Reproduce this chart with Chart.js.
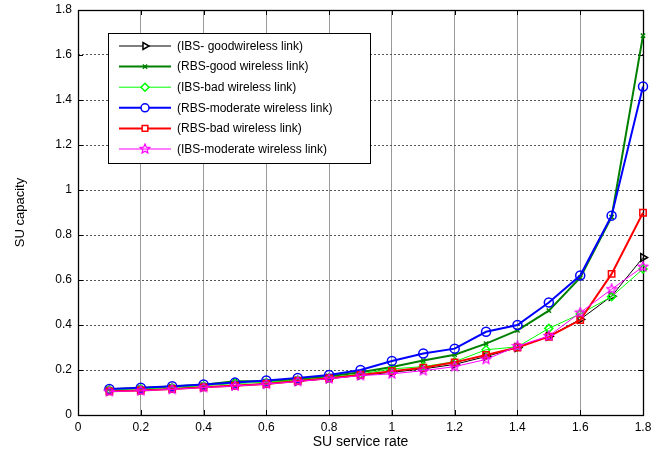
<!DOCTYPE html>
<html>
<head>
<meta charset="utf-8">
<script src="https://cdn.jsdelivr.net/npm/chart.js@4/dist/chart.umd.min.js"></script>
<style>
  html, body { margin: 0; padding: 0; background: #fff; }
  #wrap { width: 664px; height: 454px; }
</style>
</head>
<body>
<div id="wrap"><canvas id="myChart" width="664" height="454"></canvas></div>
<script>
// service rate values (x)
const serviceRate = [0.1, 0.2, 0.3, 0.4, 0.5, 0.6, 0.7, 0.8, 0.9, 1.0, 1.1, 1.2, 1.3, 1.4, 1.5, 1.6, 1.7, 1.8];

// SU capacity per scenario
const ibsGood      = [0.106, 0.110, 0.117, 0.124, 0.131, 0.139, 0.150, 0.162, 0.176, 0.190, 0.205, 0.225, 0.260, 0.300, 0.350, 0.425, 0.528, 0.700];
const rbsGood      = [0.115, 0.120, 0.127, 0.134, 0.150, 0.150, 0.160, 0.172, 0.190, 0.213, 0.242, 0.268, 0.317, 0.376, 0.464, 0.610, 0.880, 1.686];
const ibsBad       = [0.112, 0.116, 0.122, 0.130, 0.140, 0.145, 0.155, 0.167, 0.182, 0.205, 0.215, 0.237, 0.290, 0.303, 0.385, 0.449, 0.526, 0.649];
const rbsModerate  = [0.116, 0.121, 0.128, 0.136, 0.144, 0.153, 0.165, 0.178, 0.200, 0.240, 0.273, 0.295, 0.370, 0.400, 0.500, 0.620, 0.886, 1.460];
const rbsBad       = [0.105, 0.109, 0.115, 0.123, 0.130, 0.138, 0.151, 0.163, 0.178, 0.195, 0.210, 0.234, 0.267, 0.300, 0.348, 0.422, 0.627, 0.899];
const ibsModerate  = [0.104, 0.108, 0.114, 0.122, 0.129, 0.137, 0.149, 0.161, 0.175, 0.183, 0.197, 0.215, 0.247, 0.306, 0.351, 0.455, 0.559, 0.659];

const seriesNames = [
    '(IBS- goodwireless link)',
    '(RBS-good wireless link)',
    '(IBS-bad wireless link)',
    '(RBS-moderate wireless link)',
    '(RBS-bad wireless link)',
    '(IBS-moderate wireless link)'
];

const FONT = '"Liberation Sans", Arial, Helvetica, sans-serif';

// pentagram marker (chart.js "star" is an asterisk)
function makeStar(color, size) {
    const c = document.createElement('canvas');
    c.width = size; c.height = size;
    const g = c.getContext('2d');
    const cx = size / 2, cy = size / 2, R = size / 2 - 1, r = R * 0.45;
    g.beginPath();
    for (let i = 0; i < 10; i++) {
        const rad = (i % 2 === 0) ? R : r;
        const a = -Math.PI / 2 + i * Math.PI / 5;
        const px = cx + rad * Math.cos(a), py = cy + rad * Math.sin(a);
        if (i === 0) g.moveTo(px, py); else g.lineTo(px, py);
    }
    g.closePath();
    g.strokeStyle = color;
    g.lineWidth = 1.2;
    g.stroke();
    return c;
}
const starImg = makeStar('#ff00ff', 12);

function pts(arr) {
    return arr.map((v, i) => ({ x: serviceRate[i], y: v }));
}

const styles = [
    { color: '#000000', width: 1,   point: 'triangle', rot: 90, radius: 4.5 },
    { color: '#008000', width: 2,   point: 'crossRot', rot: 0,  radius: 3 },
    { color: '#00ff00', width: 1,   point: 'rectRot',  rot: 0,  radius: 4 },
    { color: '#0000ff', width: 2,   point: 'circle',   rot: 0,  radius: 4.5 },
    { color: '#ff0000', width: 2,   point: 'rect',     rot: 0,  radius: 4.5 },
    { color: '#ff00ff', width: 1,   point: starImg,    rot: 0,  radius: 5 }
];
const allData = [ibsGood, rbsGood, ibsBad, rbsModerate, rbsBad, ibsModerate];

const datasets = allData.map((d, i) => ({
    label: seriesNames[i],
    data: pts(d),
    borderColor: styles[i].color,
    backgroundColor: 'rgba(0,0,0,0)',
    borderWidth: styles[i].width,
    pointStyle: styles[i].point,
    pointRotation: styles[i].rot,
    pointRadius: styles[i].radius,
    pointBorderColor: styles[i].color,
    pointBackgroundColor: 'rgba(0,0,0,0)',
    pointBorderWidth: 1.5,
    tension: 0,
    fill: false,
    clip: false,
    order: 6 - i   // later series painted on top, like the original
}));

// black box + inward ticks on all four sides
const frameTicks = {
    id: 'frameTicks',
    beforeDatasetsDraw(chart) {
        const { ctx, chartArea: a, scales } = chart;
        ctx.save();
        ctx.strokeStyle = '#000';
        ctx.lineWidth = 1;
        const len = 5;
        scales.x.ticks.forEach(t => {
            const px = Math.round(scales.x.getPixelForValue(t.value)) + 0.5;
            ctx.beginPath();
            ctx.moveTo(px, a.bottom); ctx.lineTo(px, a.bottom - len);
            ctx.moveTo(px, a.top); ctx.lineTo(px, a.top + len);
            ctx.stroke();
        });
        scales.y.ticks.forEach(t => {
            const py = Math.round(scales.y.getPixelForValue(t.value)) + 0.5;
            ctx.beginPath();
            ctx.moveTo(a.left, py); ctx.lineTo(a.left + len, py);
            ctx.moveTo(a.right, py); ctx.lineTo(a.right - len, py);
            ctx.stroke();
        });
        ctx.lineWidth = 1.3;
        ctx.strokeRect(a.left + 0.5, a.top + 0.5, a.right - a.left, a.bottom - a.top);
        ctx.restore();
    }
};

// boxed legend inside the axes, top-left
const boxLegend = {
    id: 'boxLegend',
    afterDraw(chart) {
        const { ctx, chartArea: a } = chart;
        const left = a.left + 30, top = a.top + 23;
        const w = 262, h = 130;
        ctx.save();
        ctx.fillStyle = '#fff';
        ctx.fillRect(left, top, w, h);
        ctx.strokeStyle = '#000';
        ctx.lineWidth = 1;
        ctx.strokeRect(left + 0.5, top + 0.5, w, h);
        ctx.font = '12px ' + FONT;
        ctx.textBaseline = 'middle';
        chart.data.datasets.forEach((ds, i) => {
            const y = top + 13 + i * 20.6;
            const x0 = left + 11, x1 = left + 63;
            ctx.strokeStyle = ds.borderColor;
            ctx.lineWidth = ds.borderWidth;
            ctx.beginPath();
            ctx.moveTo(x0, y); ctx.lineTo(x1, y);
            ctx.stroke();
            if (Chart.helpers && Chart.helpers.drawPoint) {
                ctx.lineWidth = ds.pointBorderWidth;
                ctx.strokeStyle = ds.pointBorderColor;
                ctx.fillStyle = '#fff';
                Chart.helpers.drawPoint(ctx, {
                    pointStyle: ds.pointStyle,
                    rotation: ds.pointRotation,
                    radius: Math.min(ds.pointRadius, 4),
                    borderWidth: ds.pointBorderWidth
                }, (x0 + x1) / 2, y);
            }
            ctx.fillStyle = '#000';
            ctx.fillText(ds.label, left + 69, y + 0.5);
        });
        ctx.restore();
    }
};

const tickFmt = v => String(Number(v.toFixed(1)));

const myChart = new Chart(document.getElementById('myChart').getContext('2d'), {
    type: 'line',
    data: { datasets: datasets },
    plugins: [frameTicks, boxLegend],
    options: {
        responsive: false,
        animation: false,
        layout: { padding: { left: 0, right: 21, top: 10, bottom: 0 } },
        plugins: {
            legend: { display: false },
            tooltip: { enabled: false }
        },
        scales: {
            x: {
                type: 'linear',
                min: 0, max: 1.8,
                border: { display: false },
                grid: { color: '#9a9a9a', lineWidth: 1, drawTicks: false },
                ticks: { stepSize: 0.2, padding: 5, color: '#000', font: { family: FONT, size: 12 }, callback: tickFmt, maxRotation: 0 },
                title: { display: true, text: 'SU service rate', color: '#000', font: { family: FONT, size: 14 }, padding: { top: 0, bottom: 3 } },
                afterFit(scale) { scale.height = 39; }
            },
            y: {
                type: 'linear',
                min: 0, max: 1.8,
                border: { display: false, dash: [2, 2] },
                grid: { color: '#555', lineWidth: 1, drawTicks: false },
                ticks: { stepSize: 0.2, padding: 6, color: '#000', font: { family: FONT, size: 12 }, callback: tickFmt },
                title: { display: true, text: 'SU capacity', color: '#000', font: { family: FONT, size: 13 }, padding: { top: 13, bottom: 0 } },
                afterFit(scale) { scale.width = 78; scale.paddingTop = 0; scale.paddingBottom = 0; }
            }
        }
    }
});
</script>
</body>
</html>
